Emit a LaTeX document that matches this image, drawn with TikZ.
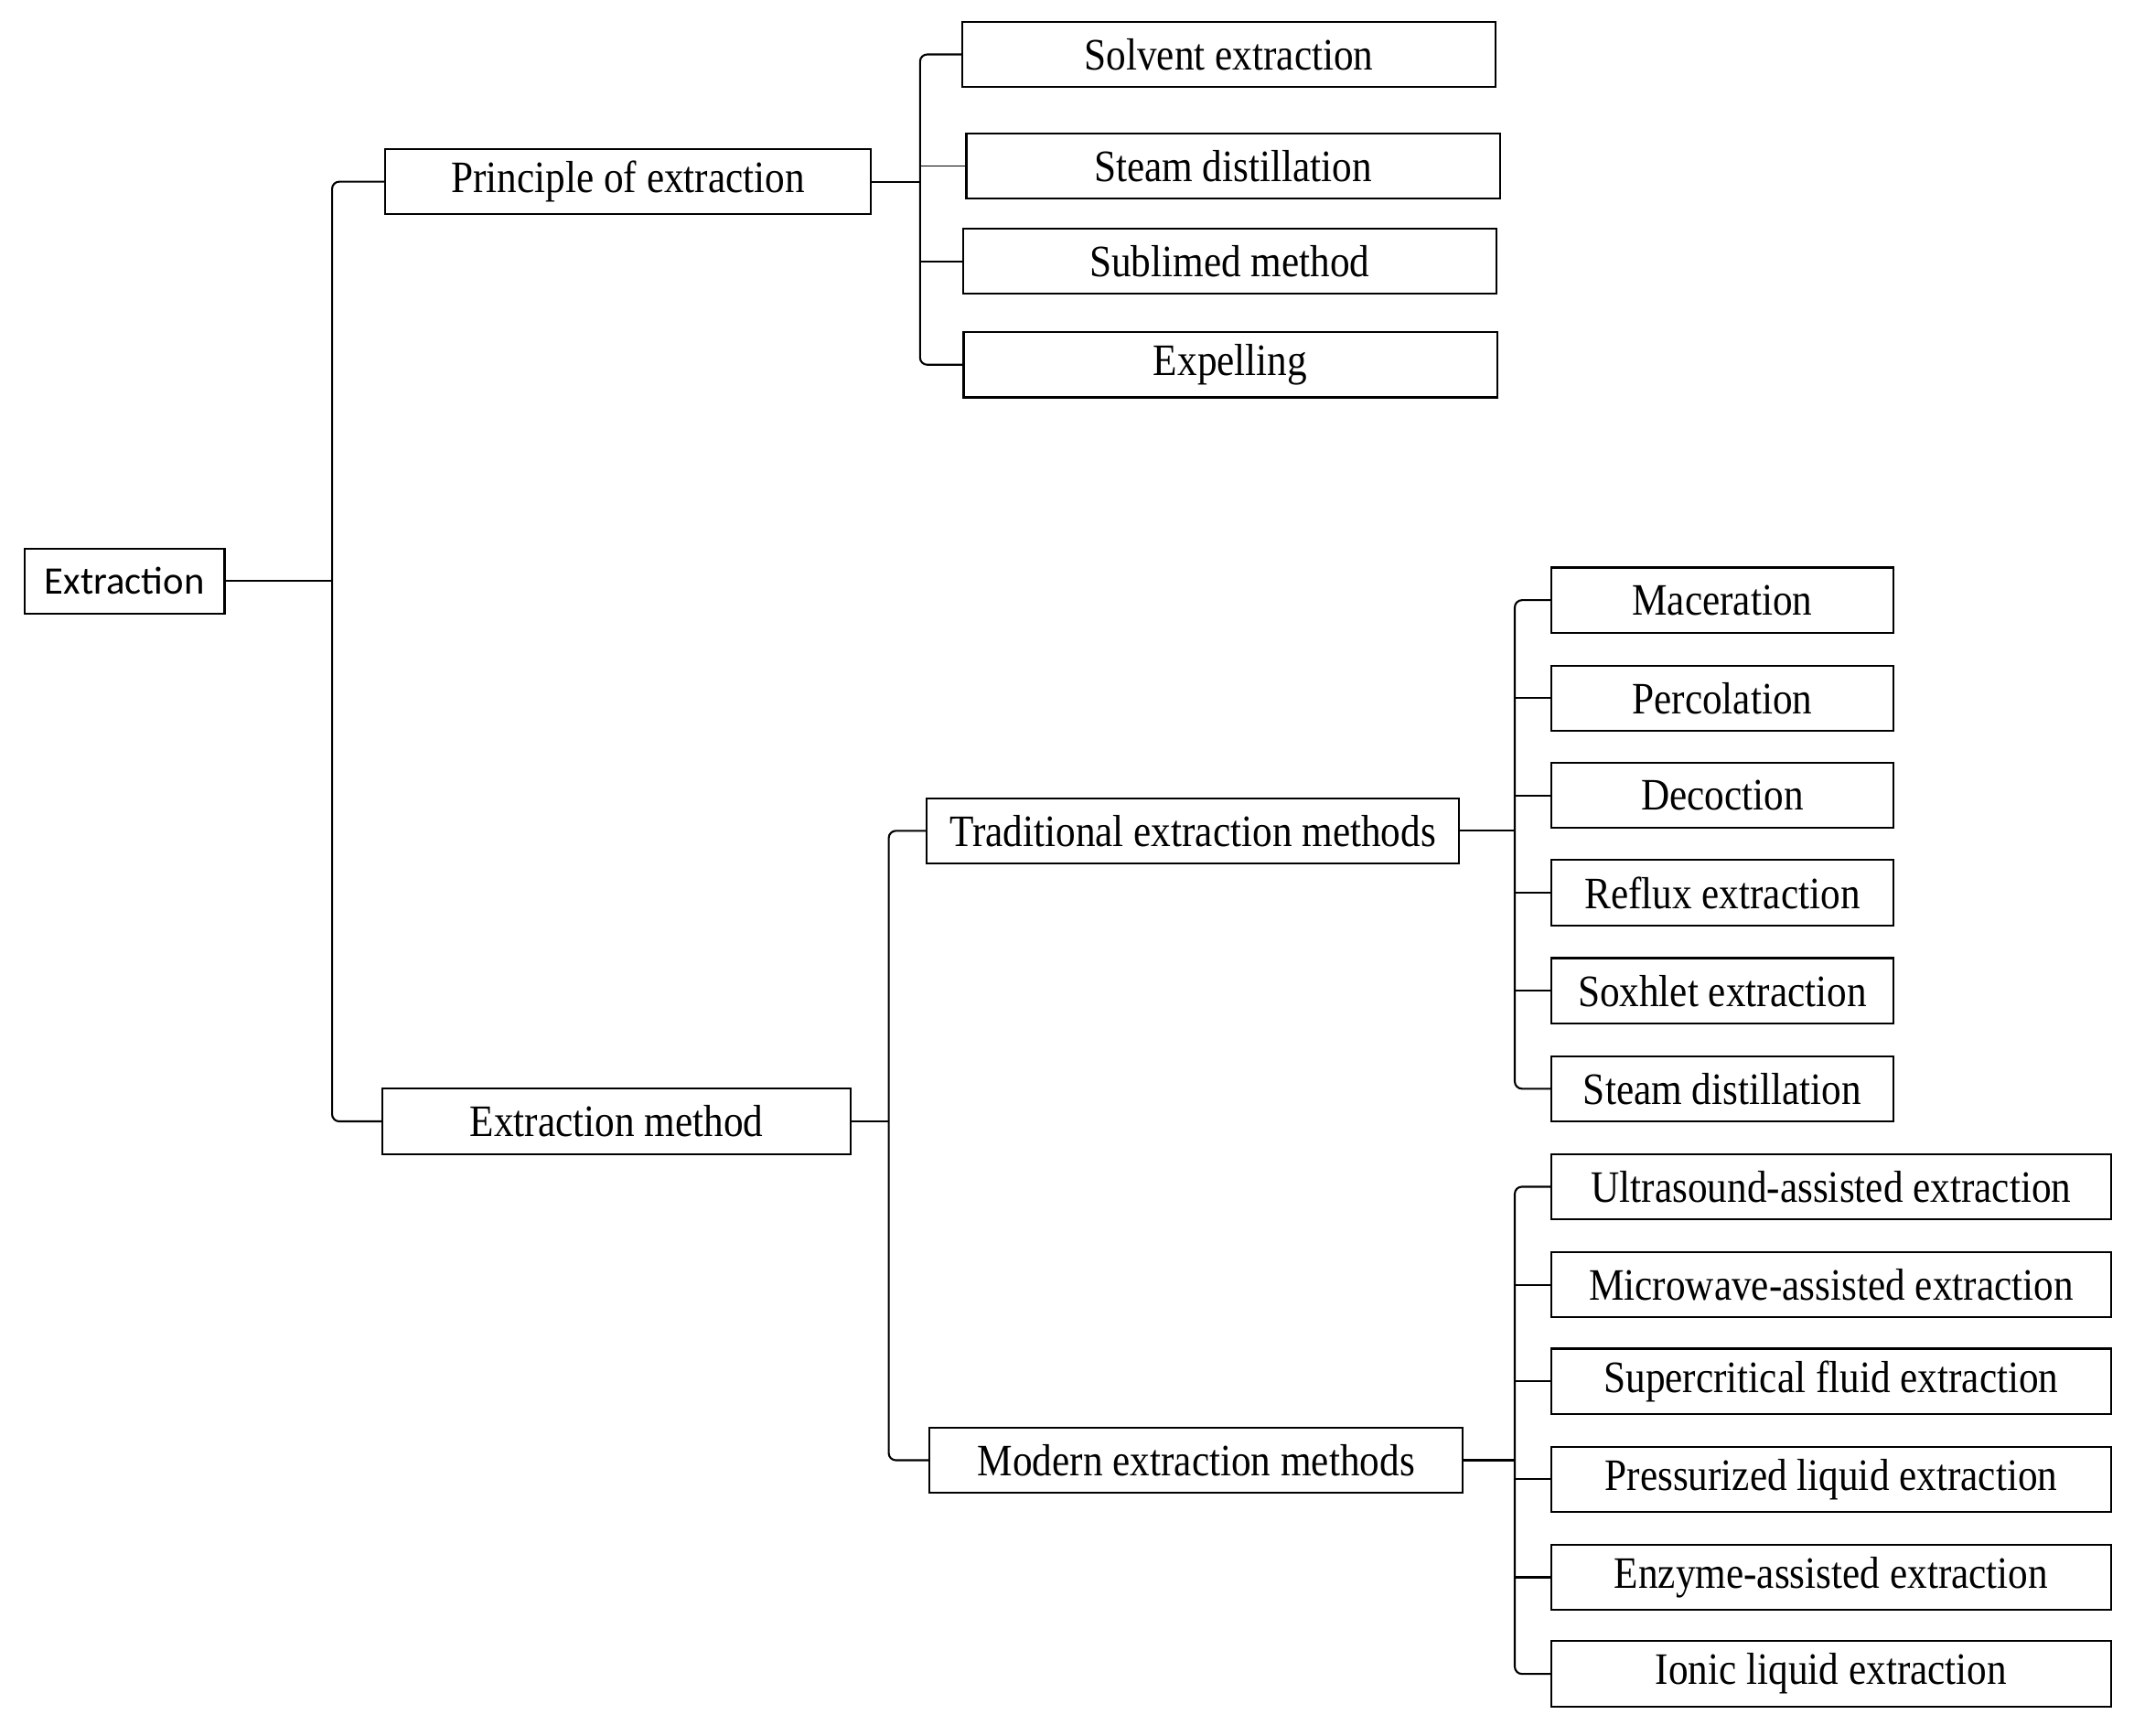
\documentclass[tikz,border=0pt]{standalone}
\usepackage{fontspec}
\setmainfont{Liberation Serif}[FakeStretch=0.88]
\newfontfamily\calibri{Carlito}
\usepackage{tikz}
\usetikzlibrary{calc}
\tikzstyle{rootbox}=[draw,line width=0.8pt,minimum width=2.94cm,minimum height=0.96cm,inner sep=0pt,font=\calibri\fontsize{16.3}{20}\selectfont]
\tikzstyle{midbox}=[draw,line width=0.8pt,minimum height=0.96cm,inner sep=0pt,font=\fontsize{18.8}{22}\selectfont]
\tikzstyle{leafbox}=[midbox]
\tikzstyle{branch}=[draw,line width=0.8pt,rounded corners=3pt]

\begin{document}
\begin{tikzpicture}[x=0.02cm, y=-0.02cm]

    \fill[white] (0,0) rectangle (1568,1275);
    \useasboundingbox (0,0) rectangle (1568,1275);

    % main boxes
    \node[rootbox] (ext) at (91.5,427) {Extraction};
    \node[midbox, minimum width=7.14cm] (prin) at (461.5,133.5) {Principle of extraction};
    \node[midbox, minimum width=6.88cm] (meth) at (453,824) {Extraction method};
    \node[midbox, minimum width=7.82cm] (trad) at (876.5,610.5) {Traditional extraction methods};
    \node[midbox, minimum width=7.84cm] (mod) at (879,1073) {Modern extraction methods};

    % leaves
    \foreach \pos/\name/\txt in {{(903,40)/solv/Solvent extraction}, {(906,122)/stdi/Steam distillation},
                                 {(903.5,192)/subl/Sublimed method}, {(904,268)/expel/Expelling}}
        \node[leafbox, minimum width=7.84cm] (\name) at \pos {\txt};

    \foreach \y/\name/\txt in {441/mac/Maceration, 513/perc/Percolation, 584.5/deco/Decoction,
                               656/refl/Reflux extraction, 728/soxh/Soxhlet extraction, 800/stdii/Steam distillation}
        \node[leafbox, minimum width=5.02cm] (\name) at (1265.5,\y) {\txt};

    \foreach \y/\name/\txt in {872/ultra/Ultrasound-assisted extraction, 944/micro/Microwave-assisted extraction,
                               1015/scfe/Supercritical fluid extraction, 1087/press/Pressurized liquid extraction,
                               1159/enzy/Enzyme-assisted extraction, 1230/ionic/Ionic liquid extraction}
        \node[leafbox, minimum width=8.22cm] (\name) at (1345.5,\y) {\txt};

    % trunks
    \coordinate (t1) at (244,427);
    \coordinate (t2) at (676,133.5);
    \coordinate (t3) at (653,824);
    \coordinate (t4) at (1113,610.5);
    \coordinate (t5) at (1113,1073);

    \path[branch] (ext.east) -- (t1);
    \path[branch] (prin.west) -| (t1) |- (meth.west);

    \path[branch] (prin.east) -- (t2);
    \path[branch] (solv.west) -| (t2) |- (expel.west);
    \draw[line width=0.5pt] (stdi.west) -- (stdi.west -| t2);
    \path[branch] (subl.west) -- (subl.west -| t2);

    \path[branch] (meth.east) -- (t3);
    \path[branch] (trad.west) -| (t3) |- (mod.west);

    \path[branch] (trad.east) -- (t4);
    \path[branch] (mac.west) -| (t4) |- (stdii.west);
    \foreach \name in {perc, deco, refl, soxh}
        \path[branch] (\name.west) -- (\name.west -| t4);

    \path[branch] (mod.east) -- (t5);
    \path[branch] (ultra.west) -| (t5) |- (ionic.west);
    \foreach \name in {micro, scfe, press, enzy}
        \path[branch] (\name.west) -- (\name.west -| t5);

\end{tikzpicture}
\end{document}
